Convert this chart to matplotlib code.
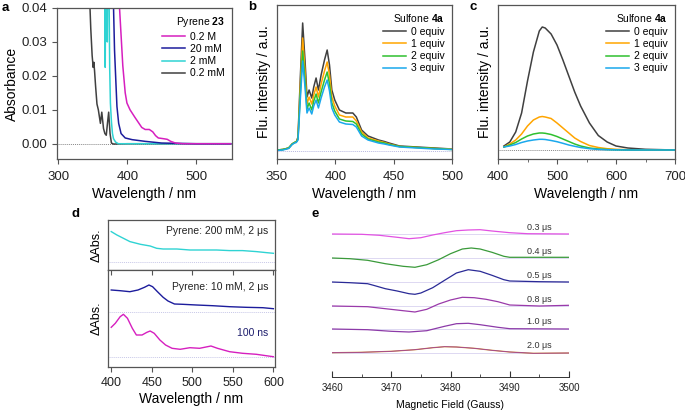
import matplotlib.pyplot as plt
from matplotlib.ticker import MultipleLocator, FormatStrFormatter

# --- a: absorption of pyrene 23 ---
conc_labels = ["0.2 M", "20 mM", "2 mM", "0.2 mM"]

lam_mag = [388.5, 391, 393.5, 397, 399.5, 404, 411, 417, 421, 426, 432, 437, 441, 445,
           452, 458, 463, 470, 480, 500, 550]
abs_mag = [0.041, 0.032, 0.023, 0.015, 0.012, 0.010, 0.0078, 0.006, 0.0048, 0.0042, 0.0042,
           0.0035, 0.0024, 0.0017, 0.0015, 0.0013, 0.0007, 0.0002, 0.0, 0.0, 0.0]
lam_navy = [379.5, 381.5, 383.5, 385, 387.5, 391, 397, 407, 426, 450, 500, 550]
abs_navy = [0.045, 0.0276, 0.018, 0.011, 0.006, 0.003, 0.0017, 0.0012, 0.0007, 0.0002, 0.0, 0.0]
lam_cyan = [367.5, 368, 368.5, 370.5, 371, 371.5, 373.5, 374.5, 375.5, 377, 378.5, 380, 383,
            387, 400, 450, 500, 550]
abs_cyan = [0.045, 0.0225, 0.045, 0.045, 0.03, 0.045, 0.045, 0.022, 0.012, 0.0065, 0.003,
            0.0015, 0.0005, 0.0, 0.0, 0.0, 0.0, 0.0]
lam_gray = [345, 347, 349, 350.5, 351.5, 352.5, 354, 356, 358, 361, 363, 365.5, 367.5, 369.5,
            371.5, 373, 375, 377, 380, 400, 450, 500, 550]
abs_gray = [0.045, 0.034, 0.026, 0.0225, 0.024, 0.0215, 0.017, 0.0117, 0.010, 0.006, 0.0093,
            0.0045, 0.003, 0.0025, 0.0065, 0.0093, 0.003, 0.0002, -0.0001, 0.0, 0.0, 0.0, 0.0]

# --- b: fluorescence of pyrene with sulfone 4a ---
equiv_labels = ["0 equiv", "1 equiv", "2 equiv", "3 equiv"]
lam_b = [350, 355, 360, 363, 365, 366.5, 368, 370, 372, 374, 375.7, 377.5, 379.8, 381.5,
         383.5, 385.5, 387.8, 390.7, 393, 395, 397, 399.5, 403.5, 409, 415, 418, 422.5, 428,
         437, 442, 446, 455, 470, 485, 500]
flu_b0 = [1, 1.5, 3, 7, 8.5, 9, 14, 74, 128, 91, 54, 61, 53, 64, 73, 61, 76, 91, 101, 86, 61,
          51, 41, 38, 38, 34, 21, 15, 11, 9.5, 8, 5, 4, 3, 2]
flu_b1 = [1, 1.5, 3, 7, 8.5, 9, 13, 66, 113, 80, 47, 54, 47, 56, 64, 54, 67, 80, 89, 76, 54,
          45, 36, 34, 34, 30, 19, 13, 10, 8.5, 7, 4.5, 3.5, 2.5, 2]
flu_b2 = [1, 1.5, 3, 7, 8.5, 9, 12, 58, 100, 71, 42, 48, 41, 50, 57, 48, 59, 71, 79, 67, 48,
          40, 32, 30, 29.5, 27, 17, 12, 9, 8, 6.5, 4.5, 3.5, 2.5, 1.5]
flu_b3 = [0.5, 1, 2.5, 6.5, 8, 8.5, 11, 52, 90, 64, 38, 43, 37, 45, 51, 43, 53, 64, 71, 60, 43,
          36, 29, 27, 26.5, 24, 15, 11, 8, 7, 6, 4, 3, 2, 1.5]

# --- c: exciplex-like emission ---
lam_c = [410, 420, 430, 440, 450, 460, 470, 475, 480, 490, 500, 510, 520, 530, 540, 555, 570,
         585, 600, 620, 650, 700]
flu_c0 = [4, 8, 18, 37, 69, 98, 119, 123, 122, 116, 105, 90, 74, 58, 44, 27, 14.5, 8, 4, 2,
          0.7, 0]
flu_c1 = [3, 6, 10, 16, 24, 30, 33, 33.5, 33, 31.5, 27, 22, 17, 12, 8.5, 4.5, 2.5, 1.3, 0.7,
          0.3, 0, 0]
flu_c2 = [3, 5, 7.5, 11, 14, 16, 17, 17, 16.7, 15.5, 13.5, 11, 8.5, 6, 4, 2, 1, 0.5, 0.2, 0,
          0, 0]
flu_c3 = [3, 4, 5.5, 7.5, 9, 10, 10.7, 10.7, 10.5, 9.5, 8.3, 6.7, 5, 3.7, 2.5, 1.3, 0.6, 0.3,
          0.1, 0, 0, 0]

# --- d: transient absorption ---
lam_d_top = [400, 407, 415, 423, 436, 448, 456, 464, 481, 497, 513, 530, 546, 562, 579, 591, 600]
dabs_200mM = [30.7, 27.3, 24, 20.7, 18, 16.3, 14, 13.3, 13.3, 12.3, 12.3, 12.3, 11.7, 11.7,
              10.7, 9.7, 9]
lam_d_blue = [400, 411, 423, 433, 441, 446.5, 451, 457, 464, 470, 478, 488, 505, 525, 546, 566,
              587, 600]
dabs_10mM = [22.3, 21.6, 20.6, 22.3, 25, 27.3, 25.6, 20.6, 15, 11.3, 8.3, 8, 7.3, 6.6, 5.6, 5,
             4.6, 3.6]
lam_d_mag = [400, 405, 411, 415, 420, 426, 431, 438, 444, 448, 453, 460, 467, 475, 485, 497,
             509, 523, 531, 546, 562, 579, 591, 600]
dabs_100ns = [29.4, 33.4, 40, 42.4, 38.4, 28.4, 21.7, 21.7, 24.4, 25.7, 23.4, 16.7, 11.7, 8.4,
              7.4, 9, 8.4, 10.7, 8.4, 5, 3.4, 2.4, 1, 0]

# --- e: TR-EPR ---
times_us = ["0.3", "0.4", "0.5", "0.8", "1.0", "2.0"]
field_03 = [3460, 3465, 3468, 3471, 3473, 3475, 3477, 3479, 3481, 3483, 3485, 3487, 3490, 3493, 3500]
epr_03 = [0, -0.3, -1.3, -3.3, -4.7, -3.7, -1, 1.3, 3.3, 4, 4.3, 3, 1.3, 0.3, 0]
field_04 = [3460, 3463, 3466, 3469, 3472, 3474, 3476, 3478, 3480, 3482, 3483.5, 3485, 3487, 3489,
            3490, 3495, 3500]
epr_04 = [0, -0.7, -2.3, -5.7, -8.3, -9.3, -6.7, -1.7, 4.3, 9, 10, 9, 5.7, 1.7, 0.7, 0.7, 0.7]
field_05 = [3460, 3463, 3466, 3467, 3469, 3471, 3473, 3474, 3475, 3477, 3479, 3481, 3483, 3485,
            3487, 3489, 3490, 3495, 3500]
epr_05 = [0, -0.7, -1.7, -3.3, -6.7, -9, -11.7, -12.3, -11, -5.7, 1.7, 9, 12.3, 10.7, 6.7, 2.3,
          1, 0.3, 0]
field_08 = [3460, 3466, 3469, 3472, 3474, 3476, 3478, 3480, 3482, 3484, 3486, 3488, 3490, 3495, 3500]
epr_08 = [0, -0.7, -2.7, -4.7, -6, -3.3, 2, 6, 8.7, 8.3, 6.7, 4.3, 1, 0, 0.7]
field_10 = [3460, 3466, 3470, 3473, 3476, 3479, 3481, 3483, 3485, 3488, 3490, 3500]
epr_10 = [0, -0.7, -2.3, -3, -1.7, 2.7, 5.3, 5.7, 4.3, 1.7, 0.3, 0]
field_20 = [3460, 3465, 3470, 3474, 3477, 3479, 3481, 3484, 3487, 3490, 3494, 3500]
epr_20 = [0.3, 0.7, 1.7, 3.3, 5.3, 6.3, 6, 4.7, 2.7, 1, -0.3, 0]

# estilo
plt.rcParams['font.family'] = ['Liberation Sans', 'DejaVu Sans']
plt.rcParams['mathtext.fontset'] = 'custom'
plt.rcParams['mathtext.rm'] = 'Liberation Sans'
plt.rcParams['mathtext.bf'] = 'Liberation Sans:bold'
plt.rcParams['axes.edgecolor'] = '#555555'
plt.rcParams['axes.linewidth'] = 0.9
plt.rcParams['xtick.color'] = '#555555'
plt.rcParams['ytick.color'] = '#555555'
plt.rcParams['xtick.labelcolor'] = '#222222'
plt.rcParams['ytick.labelcolor'] = '#222222'

GRAY = '#404040'
ORANGE = '#ffa500'
GREEN = '#2fc02f'
BLUE = '#1aa8ec'
MAG = '#d61fbf'
NAVY = '#1c1c9c'
CYAN = '#2fd3d3'

W, H = 685, 412
fig = plt.figure(figsize=(6.85, 4.12), dpi=100)


def box(l, t, r, b):
    return [l / W, 1 - b / H, (r - l) / W, (b - t) / H]


def legend_style(ax, handles, labels, title):
    leg = ax.legend(handles, labels, title=title, loc='upper right', frameon=False,
                    fontsize=7.5, title_fontsize=7.5, handlelength=2.2, handletextpad=0.45,
                    labelspacing=0.22, borderaxespad=0.3, alignment='right')
    return leg


# ==== a ====
ax_a = fig.add_axes(box(57, 8, 232, 159))
ax_a.axhline(0, color='#888888', lw=0.7, ls=(0, (1, 1)))
l_gray, = ax_a.plot(lam_gray, abs_gray, color=GRAY, lw=1.1)
l_cyan, = ax_a.plot(lam_cyan, abs_cyan, color=CYAN, lw=1.1)
l_navy, = ax_a.plot(lam_navy, abs_navy, color=NAVY, lw=1.1)
l_mag, = ax_a.plot(lam_mag, abs_mag, color=MAG, lw=1.1)
ax_a.set_xlim(298, 552)
ax_a.set_ylim(-0.0045, 0.04)
ax_a.set_xticks([300, 400, 500])
ax_a.set_yticks([0, 0.01, 0.02, 0.03, 0.04])
ax_a.yaxis.set_major_formatter(FormatStrFormatter('%.2f'))
ax_a.tick_params(labelsize=9.5, length=3.5)
ax_a.tick_params(axis='x', pad=5)
ax_a.set_xlabel("Wavelength / nm", fontsize=10, labelpad=3)
ax_a.set_ylabel("Absorbance", fontsize=10, labelpad=2)
legend_style(ax_a, [l_mag, l_navy, l_cyan, l_gray], conc_labels, r"Pyrene $\mathbf{23}$")

# ==== b ====
ax_b = fig.add_axes(box(277, 5, 452, 159))
ax_b.axhline(0, color='#b8b8e0', lw=0.7, ls=(0, (1, 1)))
hb = []
for vals, col in zip([flu_b0, flu_b1, flu_b2, flu_b3], [GRAY, ORANGE, GREEN, BLUE]):
    ln, = ax_b.plot(lam_b, vals, color=col, lw=1.1)
    hb.append(ln)
ax_b.set_xlim(350, 500)
ax_b.set_ylim(-8, 146)
ax_b.set_xticks([350, 400, 450, 500])
ax_b.set_yticks([])
ax_b.tick_params(labelsize=9.5, length=3.5)
ax_b.tick_params(axis='x', pad=5)
ax_b.set_xlabel("Wavelength / nm", fontsize=10, labelpad=3)
ax_b.set_ylabel("Flu. intensity / a.u.", fontsize=10, labelpad=4)
legend_style(ax_b, hb, equiv_labels, r"Sulfone $\mathbf{4a}$")

# ==== c ====
ax_c = fig.add_axes(box(498, 5, 675, 159))
ax_c.axhline(0, color='#888888', lw=0.7, ls=(0, (1, 1)))
hc = []
for vals, col in zip([flu_c0, flu_c1, flu_c2, flu_c3], [GRAY, ORANGE, GREEN, BLUE]):
    ln, = ax_c.plot(lam_c, vals, color=col, lw=1.1)
    hc.append(ln)
ax_c.set_xlim(400, 700)
ax_c.set_ylim(-9, 145)
ax_c.set_xticks([400, 500, 600, 700])
ax_c.xaxis.set_minor_locator(MultipleLocator(50))
ax_c.set_yticks([])
ax_c.tick_params(labelsize=9.5, length=3.5)
ax_c.tick_params(axis='x', pad=5)
ax_c.tick_params(which='minor', length=2.5)
ax_c.set_xlabel("Wavelength / nm", fontsize=10, labelpad=3)
ax_c.set_ylabel("Flu. intensity / a.u.", fontsize=10, labelpad=4)
legend_style(ax_c, hc, equiv_labels, r"Sulfone $\mathbf{4a}$")

# ==== d ====
ax_d1 = fig.add_axes(box(108, 220, 275, 270))
ax_d2 = fig.add_axes(box(108, 270, 275, 367))
ax_d1.axhline(0, color='#c8c8e8', lw=0.7, ls=(0, (1, 1)))
ax_d1.plot(lam_d_top, dabs_200mM, color=CYAN, lw=1.0)
ax_d1.set_xlim(396, 602)
ax_d1.set_ylim(-7.7, 42.3)
ax_d1.set_xticks([])
ax_d1.set_yticks([])
ax_d1.set_ylabel("ΔAbs.", fontsize=9, labelpad=4)
ax_d1.text(0.96, 0.78, "Pyrene: 200 mM, 2 μs", transform=ax_d1.transAxes, ha='right',
           va='center', fontsize=7.5, color='#222222')

off_blue = 54.7
off_mag = 10.3
ax_d2.axhline(off_blue, color='#c8c8e8', lw=0.7, ls=(0, (1, 1)))
ax_d2.axhline(off_mag, color='#c8c8e8', lw=0.7, ls=(0, (1, 1)))
ax_d2.plot(lam_d_blue, [v + off_blue for v in dabs_10mM], color=NAVY, lw=1.0)
ax_d2.plot(lam_d_mag, [v + off_mag for v in dabs_100ns], color=MAG, lw=1.0)
ax_d2.set_xlim(396, 602)
ax_d2.set_ylim(0, 97)
ax_d2.set_xticks([400, 450, 500, 550, 600])
ax_d2.set_yticks([])
ax_d2.tick_params(axis='x', labelsize=9, length=3.5, direction='out')
sec = ax_d2.secondary_xaxis('top')
sec.set_xticks([400, 450, 500, 550, 600])
sec.tick_params(direction='in', length=3.5, labeltop=False)
sec.spines['top'].set_visible(False)
ax_d2.set_xlabel("Wavelength / nm", fontsize=10, labelpad=2)
ax_d2.set_ylabel("ΔAbs.", fontsize=9, labelpad=4)
ax_d2.text(0.96, 0.825, "Pyrene: 10 mM, 2 μs", transform=ax_d2.transAxes, ha='right',
           va='center', fontsize=7.5, color='#222222')
ax_d2.text(0.96, 0.35, "100 ns", transform=ax_d2.transAxes, ha='right',
           va='center', fontsize=7.5, color='#1c1c6c')

# ==== e ====
ax_e = fig.add_axes(box(332, 215, 569, 377))
offsets_e = [143, 119, 95, 71, 48, 24]
fields = [field_03, field_04, field_05, field_08, field_10, field_20]
signals = [epr_03, epr_04, epr_05, epr_08, epr_10, epr_20]
cols_e = ['#e252e2', '#3a9a3a', '#2a2a96', '#9a3aaa', '#8c3aa8', '#d08a30']
for fld, sig, off, col, t in zip(fields, signals, offsets_e, cols_e, times_us):
    ax_e.plot([3460, 3500], [off, off], color='#ddd8f2', lw=0.7)
    ax_e.plot(fld, [v + off for v in sig], color=col, lw=0.9)
    ax_e.text(3497, off + 7, f"{t} μs", ha='right', va='center', fontsize=6.5,
              color='#333333')
ax_e.plot(field_20, [v + offsets_e[-1] for v in epr_20], color='#9a3aaa', lw=0.5)
ax_e.set_xlim(3460, 3500)
ax_e.set_ylim(0, 162)
for s in ['top', 'right', 'left']:
    ax_e.spines[s].set_visible(False)
ax_e.spines['bottom'].set_color('#333333')
ax_e.spines['bottom'].set_linewidth(0.7)
ax_e.set_yticks([])
ax_e.set_xticks([3460, 3470, 3480, 3490, 3500])
ax_e.xaxis.set_minor_locator(MultipleLocator(5))
ax_e.tick_params(axis='x', which='both', direction='in', labelsize=7, color='#333333', pad=4)
ax_e.tick_params(axis='x', which='major', length=4)
ax_e.tick_params(axis='x', which='minor', length=2)
ax_e.set_xlabel("Magnetic Field (Gauss)", fontsize=7.5, labelpad=5)

# letras dos painéis
for txt, px, py in [("a", 5, 8), ("b", 252, 7), ("c", 473, 7), ("d", 75, 214), ("e", 315, 214)]:
    fig.text(px / W, 1 - py / H, txt, fontsize=9.5, fontweight='bold', ha='center', va='center')

fig.savefig("out.png", dpi=100)
